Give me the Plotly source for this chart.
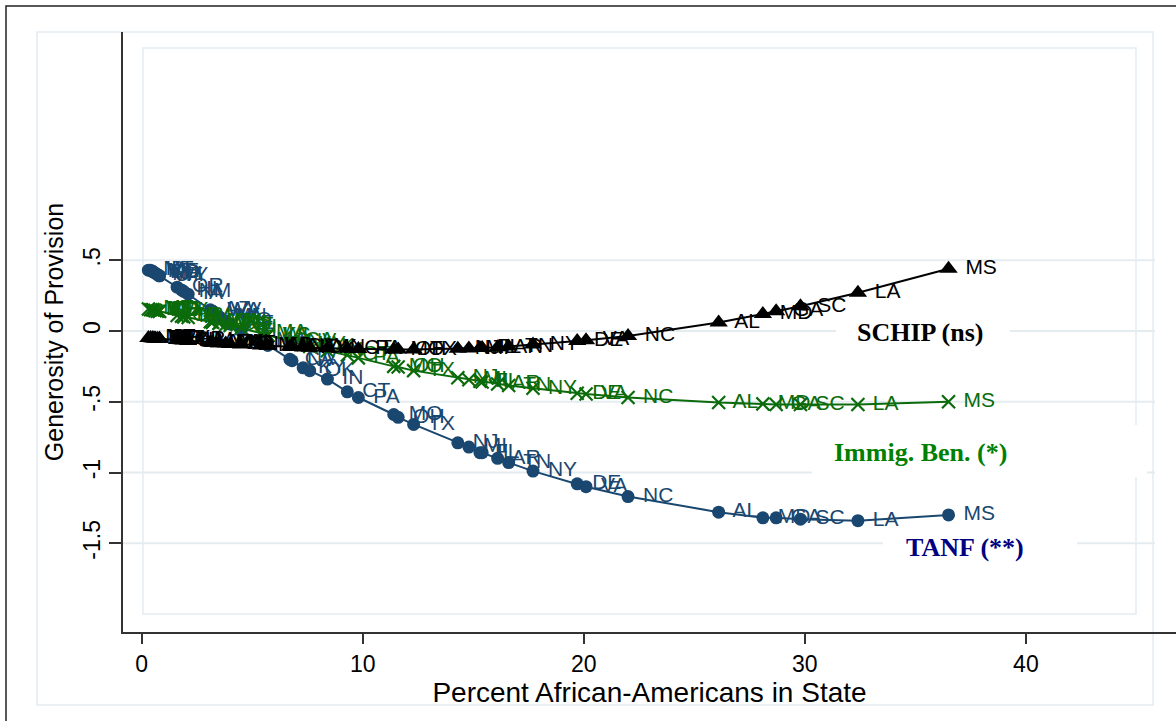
import plotly.graph_objects as go

# ---------------- data ----------------
states = ["MT", "ID", "ME", "VT", "ND", "SD", "NH", "UT", "WY", "OR", "HI", "NM", "IA",
          "AZ", "WA", "WV", "AK", "MN", "CO", "NE", "RI", "MA", "KS", "WI", "CA", "NV",
          "KY", "OK", "IN", "CT", "PA", "MO", "OH", "TX", "NJ", "MI", "FL", "IL", "AR",
          "TN", "NY", "DE", "VA", "NC", "AL", "MD", "GA", "SC", "LA", "MS"]
pct_black = [0.3, 0.4, 0.5, 0.5, 0.6, 0.6, 0.7, 0.8, 0.8, 1.6, 1.8, 1.9, 2.1,
             3.1, 3.2, 3.2, 3.5, 3.5, 3.8, 4.0, 4.5, 5.4, 5.7, 5.7, 6.7, 6.8,
             7.3, 7.6, 8.4, 9.3, 9.8, 11.4, 11.6, 12.3, 14.3, 14.8, 15.3, 15.4, 16.1,
             16.6, 17.7, 19.7, 20.1, 22.0, 26.1, 28.1, 28.7, 29.8, 32.4, 36.5]
tanf = [0.43, 0.43, 0.42, 0.42, 0.41, 0.41, 0.40, 0.39, 0.39, 0.31, 0.29, 0.28, 0.26,
        0.15, 0.14, 0.14, 0.10, 0.10, 0.07, 0.05, 0.00, -0.07, -0.10, -0.10, -0.20, -0.21,
        -0.26, -0.28, -0.34, -0.43, -0.47, -0.59, -0.61, -0.66, -0.79, -0.82, -0.86, -0.86, -0.90,
        -0.93, -0.99, -1.08, -1.10, -1.17, -1.28, -1.32, -1.32, -1.33, -1.34, -1.30]
immig = [0.155, 0.15, 0.15, 0.15, 0.145, 0.145, 0.14, 0.14, 0.14, 0.11, 0.105, 0.10, 0.095,
         0.065, 0.062, 0.062, 0.055, 0.055, 0.045, 0.04, 0.02, -0.015, -0.03, -0.03, -0.07, -0.075,
         -0.095, -0.11, -0.14, -0.17, -0.19, -0.25, -0.255, -0.28, -0.33, -0.345, -0.355, -0.36, -0.375,
         -0.385, -0.405, -0.44, -0.445, -0.47, -0.505, -0.515, -0.52, -0.52, -0.52, -0.50]
schip = [-0.05, -0.05, -0.052, -0.052, -0.053, -0.053, -0.054, -0.055, -0.055, -0.064, -0.066, -0.067, -0.07,
         -0.082, -0.083, -0.083, -0.086, -0.086, -0.089, -0.091, -0.096, -0.103, -0.105, -0.105, -0.112, -0.113,
         -0.116, -0.118, -0.121, -0.125, -0.127, -0.13, -0.13, -0.13, -0.125, -0.123, -0.12, -0.12, -0.115,
         -0.11, -0.095, -0.07, -0.065, -0.035, 0.06, 0.12, 0.14, 0.175, 0.27, 0.44]

x_ticks = [0, 10, 20, 30, 40]
y_ticks = [0.5, 0, -0.5, -1, -1.5]
y_tick_text = [".5", "0", "-.5", "-1", "-1.5"]
series_names = ["TANF (**)", "Immig. Ben. (*)", "SCHIP (ns)"]

# ---------------- style ----------------
W, H = 1176, 721
ML, MR, MT_, MB = 123, 0, 32, 89
PW, PH = W - ML - MR, H - MT_ - MB
LIGHT = "#e4ecf0"
C_TANF = "#1a476f"
C_IMM = "#0b6b0b"
C_SCH = "#000000"
LBL_FONT = "Liberation Sans, Arial, sans-serif"
SERIF = "Liberation Serif, Times New Roman, serif"


def px(xp):
    return (xp - ML) / PW


def py(yp):
    return (H - MB - yp) / PH


fig = go.Figure()

for yv, col, sym, msize, name in [
        (tanf, C_TANF, "circle", 13, series_names[0]),
        (immig, C_IMM, "x-thin", 13, series_names[1]),
        (schip, C_SCH, "triangle-up", 16, series_names[2])]:
    mk = dict(symbol=sym, size=msize, color=col)
    if sym == "x-thin":
        mk["line"] = dict(color=col, width=2.2)
    fig.add_trace(go.Scatter(
        x=pct_black, y=yv, text=states, mode="lines+markers+text",
        texttemplate=" %{text}", textposition="middle right", name=name,
        line=dict(color=col, width=2), marker=mk,
        textfont=dict(family=LBL_FONT, size=21, color=col), cliponaxis=False))

shapes = []
# outer black frame
shapes.append(dict(type="rect", xref="paper", yref="paper",
                   x0=px(6), x1=px(1190), y0=py(735), y1=py(6),
                   line=dict(color="#222222", width=1.5), layer="below"))
# graph region frame
shapes.append(dict(type="rect", xref="paper", yref="paper",
                   x0=px(37), x1=px(1153), y0=py(705), y1=py(32),
                   line=dict(color=LIGHT, width=1.5), layer="below"))
# inner plot region frame
shapes.append(dict(type="rect", xref="paper", yref="paper",
                   x0=px(143), x1=px(1136), y0=py(614), y1=py(48),
                   line=dict(color=LIGHT, width=1.5), layer="below"))
# gridlines
for yv in y_ticks:
    shapes.append(dict(type="line", xref="paper", yref="y",
                       x0=0, x1=px(1155), y0=yv, y1=yv,
                       line=dict(color=LIGHT, width=2), layer="below"))
# white boxes behind the series captions
for (x0, x1, y0, y1) in [(836, 1010, 316, 347), (812, 1147, 425, 477), (883, 1077, 531, 564)]:
    shapes.append(dict(type="rect", xref="paper", yref="paper",
                       x0=px(x0), x1=px(x1), y0=py(y1), y1=py(y0),
                       fillcolor="white", line=dict(width=0), layer="below"))

annotations = []
for text, cx, cy, col in [(series_names[2], 920, 332, "#000000"),
                          (series_names[1], 920, 452, "#008000"),
                          (series_names[0], 965, 547, "#000080")]:
    annotations.append(dict(x=px(cx), y=py(cy), xref="paper", yref="paper",
                            xanchor="center", yanchor="middle",
                            text="<b>" + text + "</b>", showarrow=False,
                            font=dict(family=SERIF, size=26, color=col)))

fig.update_layout(
    width=W, height=H,
    margin=dict(l=ML, r=MR, t=MT_, b=MB, pad=0),
    paper_bgcolor="white", plot_bgcolor="white",
    showlegend=False,
    shapes=shapes, annotations=annotations,
    xaxis=dict(range=[-0.848, 46.79], tickvals=x_ticks, ticktext=[str(v) for v in x_ticks],
               showgrid=False, zeroline=False, showline=True, linecolor="#333333", linewidth=2,
               ticks="outside", ticklen=10, tickwidth=1.5, tickcolor="#333333",
               tickfont=dict(family=LBL_FONT, size=23, color="#000000"),
               title=dict(text="Percent African-Americans in State", standoff=0,
                          font=dict(family=LBL_FONT, size=28, color="#000000"))),
    yaxis=dict(range=[-2.127, 2.113], tickvals=y_ticks, ticktext=y_tick_text,
               showgrid=False, zeroline=False, showline=True, linecolor="#333333", linewidth=2,
               ticks="outside", ticklen=12, tickwidth=1.5, tickcolor="#333333", tickangle=-90,
               tickfont=dict(family=LBL_FONT, size=23, color="#000000"),
               title=dict(text="Generosity of Provision", standoff=8,
                          font=dict(family=LBL_FONT, size=25, color="#000000"))),
)

fig.write_html("out.html", config={"displayModeBar": False},
               post_script="document.body.style.margin='0';")
